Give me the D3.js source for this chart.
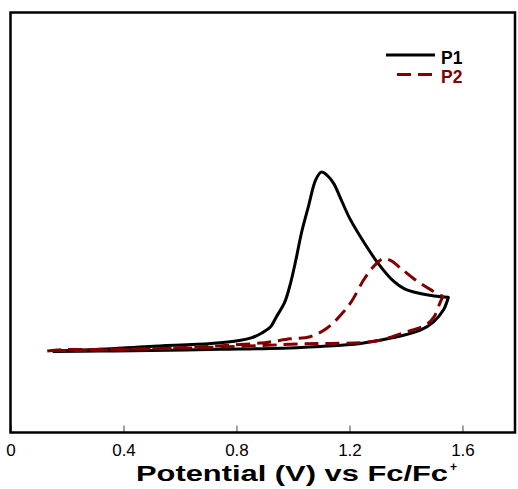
<!DOCTYPE html>
<html>
<head>
<meta charset="utf-8">
<script src="https://cdn.jsdelivr.net/npm/d3@7"></script>
<style>
body { margin: 0; background: #fff; }
svg { display: block; font-family: Arial, "Liberation Sans", sans-serif; }
</style>
</head>
<body>
<svg id="cv-chart" width="518" height="489"></svg>
<script>
// cyclic voltammograms, potential in V vs Fc/Fc+, current in arbitrary units
// P1 forward (anodic) scan
var p1FwdV = [0.15, 0.32, 0.49, 0.71, 0.81, 0.855, 0.89, 0.92, 0.94, 0.97, 0.99, 1.01, 1.03, 1.055, 1.08, 1.10, 1.12, 1.145, 1.165, 1.20, 1.25, 1.30, 1.355, 1.395, 1.45, 1.50, 1.55];
var p1FwdI = [19.4, 19.8, 20.5, 21.2, 21.9, 22.6, 23.7, 25.1, 27.4, 30.9, 35.2, 41.0, 47.5, 53.9, 60.1, 62.0, 61.3, 59.2, 56.3, 51.1, 45.4, 40.4, 36.1, 34.2, 33.1, 32.5, 32.2];
// P1 reverse scan
var p1RevV = [1.55, 1.533, 1.497, 1.451, 1.356, 1.239, 1.097, 0.92, 0.743, 0.496, 0.319, 0.149];
var p1RevI = [32.2, 29.2, 26.3, 24.4, 22.6, 21.2, 20.5, 20.0, 19.8, 19.5, 19.4, 19.3];
// P2 forward scan
var p2FwdV = [0.13, 0.18, 0.32, 0.52, 0.67, 0.78, 0.90, 0.99, 1.06, 1.12, 1.18, 1.21, 1.25, 1.285, 1.32, 1.35, 1.38, 1.43, 1.49, 1.53];
var p2FwdI = [19.4, 19.7, 19.8, 20.0, 20.4, 20.8, 21.4, 22.3, 22.8, 24.8, 28.8, 31.5, 36.3, 39.5, 41.4, 40.8, 39.2, 36.5, 33.9, 32.4];
// P2 reverse scan
var p2RevV = [1.53, 1.52, 1.50, 1.47, 1.39, 1.31, 1.24, 1.13, 1.03, 0.885, 0.67, 0.50, 0.32, 0.15];
var p2RevI = [32.3, 30.8, 27.6, 25.6, 23.7, 22.0, 21.4, 21.2, 21.1, 20.7, 20.2, 19.9, 19.6, 19.5];

var xTicks = [0, 0.4, 0.8, 1.2, 1.6];
var xTickLabels = ["0", "0.4", "0.8", "1.2", "1.6"];
var seriesNames = ["P1", "P2"];
var seriesColors = ["#000000", "#800000"];

function zipScan(v, i) {
    return v.map(function(d, k) { return { v: d, i: i[k] }; });
}

var series = [
    { name: seriesNames[0], color: seriesColors[0], dash: null,
      fwd: zipScan(p1FwdV, p1FwdI), rev: zipScan(p1RevV, p1RevI) },
    { name: seriesNames[1], color: seriesColors[1], dash: "14,7",
      fwd: zipScan(p2FwdV, p2FwdI), rev: zipScan(p2RevV, p2RevI) }
];

drawChart();

function drawChart() {
    var svg = d3.select("#cv-chart");
    var left = 10.5, right = 515, top = 12.5, bottom = 432.5;

    var x = d3.scaleLinear()
        .domain([0, 1.786])
        .range([left, right]);

    var y = d3.scaleLinear()
        .domain([0, 100])
        .range([bottom, top]);

    var line = d3.line()
        .x(function(d) { return x(d.v); })
        .y(function(d) { return y(d.i); })
        .curve(d3.curveCatmullRom.alpha(0.5));

    // bottom axis, inward ticks, no domain line
    var axis = svg.append("g")
        .attr("transform", "translate(0," + bottom + ")")
        .call(d3.axisBottom(x)
            .tickValues(xTicks)
            .tickFormat(function(d, k) { return xTickLabels[k]; })
            .tickSize(-7)
            .tickPadding(11.5));
    axis.select(".domain").remove();
    axis.selectAll(".tick line").attr("stroke", "#444");
    axis.selectAll(".tick text")
        .attr("font-family", "Arial, 'Liberation Sans', sans-serif")
        .attr("font-size", 17)
        .attr("fill", "#000");

    svg.selectAll("path.scan")
        .data(series)
        .enter()
        .append("path")
        .attr("class", "scan")
        .attr("fill", "none")
        .attr("stroke", function(d) { return d.color; })
        .attr("stroke-width", 3)
        .attr("stroke-linejoin", "round")
        .attr("stroke-linecap", "butt")
        .attr("stroke-dasharray", function(d) { return d.dash; })
        .attr("d", function(d) {
            return line(d.fwd) + line(d.rev).replace(/^M/, "L");
        });

    // frame
    svg.append("rect")
        .attr("x", left)
        .attr("y", top)
        .attr("width", right - left)
        .attr("height", bottom - top)
        .attr("fill", "none")
        .attr("stroke", "#000")
        .attr("stroke-width", 2.5);

    // legend
    var legend = svg.append("g");
    var legendRows = [
        { x1: 386, x2: 435, y: 55, ty: 63.5 },
        { x1: 397, x2: 433, y: 74.5, ty: 83 }
    ];
    series.forEach(function(s, k) {
        var r = legendRows[k];
        legend.append("line")
            .attr("x1", r.x1).attr("x2", r.x2)
            .attr("y1", r.y).attr("y2", r.y)
            .attr("stroke", s.color)
            .attr("stroke-width", 3)
            .attr("stroke-dasharray", s.dash);
        legend.append("text")
            .attr("x", 441)
            .attr("y", r.ty)
            .attr("font-size", 17.5)
            .attr("font-weight", "bold")
            .attr("fill", s.color)
            .text(s.name);
    });

    // x axis title, drawn wide like the original
    svg.append("text")
        .attr("x", 136)
        .attr("y", 481)
        .attr("font-size", 22)
        .attr("font-weight", "bold")
        .attr("textLength", 312)
        .attr("lengthAdjust", "spacingAndGlyphs")
        .attr("fill", "#000")
        .text("Potential (V) vs Fc/Fc");
    svg.append("text")
        .attr("x", 450)
        .attr("y", 471)
        .attr("font-size", 12)
        .attr("font-weight", "bold")
        .attr("fill", "#000")
        .text("+");
}
</script>
</body>
</html>
